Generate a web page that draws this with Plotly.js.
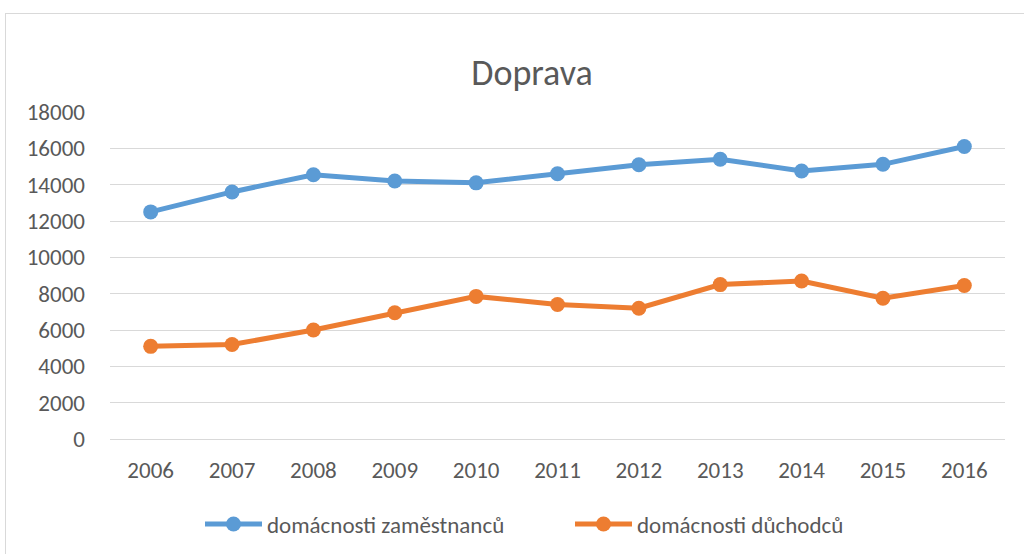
<!DOCTYPE html>
<html>
<head>
<meta charset="utf-8">
<script src="https://cdn.plot.ly/plotly-3.0.1.min.js"></script>
<style>
  html, body { margin: 0; padding: 0; background: #ffffff; }
  #wrap { position: relative; width: 1024px; height: 554px; overflow: hidden; }
  #frame { position: absolute; left: 5px; top: 13px; width: 1030px; height: 560px; border: 1px solid #d9d9d9; box-sizing: border-box; pointer-events: none; }
  #chart { position: absolute; left: 0; top: 0; width: 1024px; height: 554px; }
</style>
</head>
<body>
<div id="wrap">
  <div id="chart"></div>
  <div id="frame"></div>
</div>
<script>
const years = ["2006","2007","2008","2009","2010","2011","2012","2013","2014","2015","2016"];
const zamestnancu = [12500, 13600, 14550, 14200, 14100, 14600, 15100, 15400, 14750, 15120, 16100];
const duchodcu = [5100, 5200, 6000, 6950, 7850, 7400, 7200, 8500, 8700, 7750, 8450];
const seriesNames = ["domácnosti zaměstnanců", "domácnosti důchodců"];
const yTicks = [0, 2000, 4000, 6000, 8000, 10000, 12000, 14000, 16000, 18000];

const FONT = "Carlito, Calibri, 'Liberation Sans', 'DejaVu Sans', sans-serif";

const traces = [
  {
    x: years, y: zamestnancu, name: seriesNames[0], type: "scatter", mode: "lines+markers",
    line: { color: "#5B9BD5", width: 5 },
    marker: { color: "#5B9BD5", size: 15 }
  },
  {
    x: years, y: duchodcu, name: seriesNames[1], type: "scatter", mode: "lines+markers",
    line: { color: "#ED7D31", width: 5 },
    marker: { color: "#ED7D31", size: 15 }
  }
];

const layout = {
  width: 1024, height: 554,
  margin: { l: 110, r: 19, t: 112, b: 115 },
  paper_bgcolor: "rgba(0,0,0,0)",
  plot_bgcolor: "#ffffff",
  font: { family: FONT, color: "#595959", size: 23 },
  title: {
    text: "Doprava",
    font: { family: FONT, size: 36, color: "#595959" },
    x: 532/1024, xref: "container", xanchor: "center",
    y: 1 - 72/554, yref: "container", yanchor: "middle"
  },
  xaxis: {
    type: "category",
    range: [-0.5, 10.5],
    showgrid: false, zeroline: false,
    showline: true, linecolor: "#d9d9d9", linewidth: 1,
    ticks: "", ticklabelstandoff: 10,
    tickfont: { family: FONT, size: 23, color: "#595959" },
    fixedrange: true
  },
  yaxis: {
    range: [0, 18000],
    tickvals: yTicks,
    ticktext: yTicks.map(String),
    showgrid: true, gridcolor: "#d9d9d9", gridwidth: 1,
    zeroline: false, showline: false,
    ticks: "", ticklabelstandoff: 24,
    tickfont: { family: FONT, size: 23, color: "#595959" },
    fixedrange: true
  },
  showlegend: true,
  legend: {
    orientation: "h",
    x: 200/1024, xref: "container", xanchor: "left",
    y: 1 - 524/554, yref: "container", yanchor: "middle",
    font: { family: FONT, size: 23, color: "#595959" },
    entrywidth: 298, entrywidthmode: "pixels",
    itemwidth: 57,
    tracegroupgap: 0
  },
  hovermode: false
};

Plotly.newPlot("chart", traces, layout, { displayModeBar: false, staticPlot: true });
</script>
</body>
</html>
